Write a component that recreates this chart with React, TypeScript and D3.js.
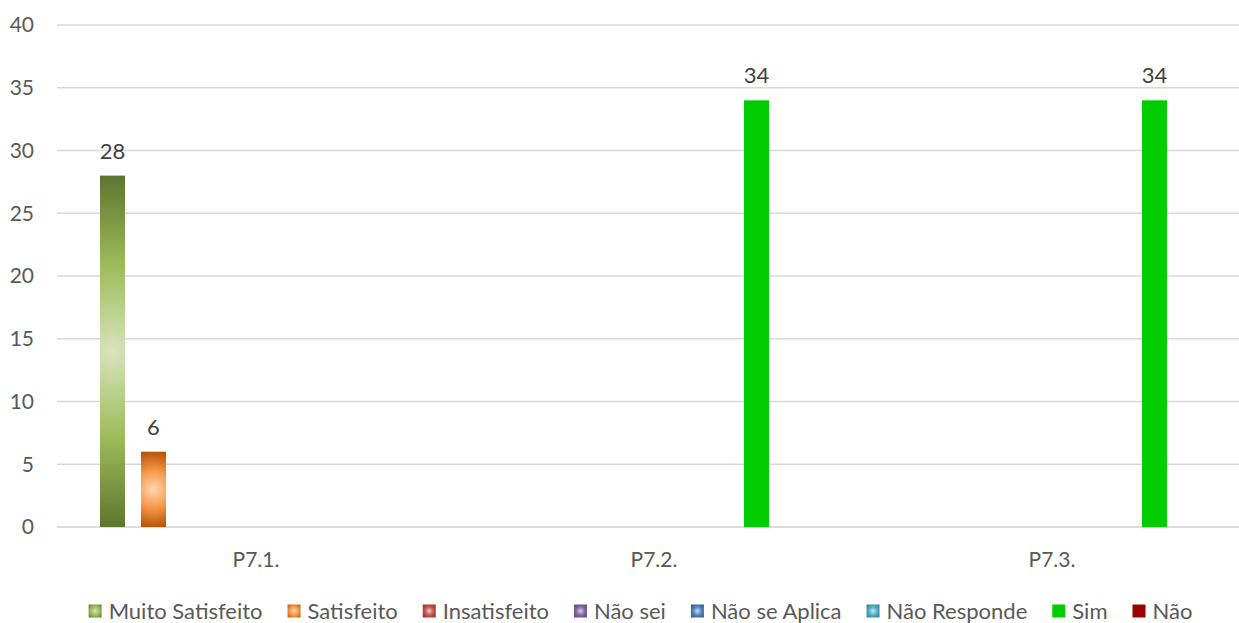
import React, { useEffect, useRef } from "react";
import * as d3 from "d3";

// Survey results per question
const categories = ["P7.1.", "P7.2.", "P7.3."];
const seriesNames = [
  "Muito Satisfeito",
  "Satisfeito",
  "Insatisfeito",
  "Não sei",
  "Não se Aplica",
  "Não Responde",
  "Sim",
  "Não",
];
const muitoSatisfeito: (number | null)[] = [28, null, null];
const satisfeito: (number | null)[] = [6, null, null];
const insatisfeito: (number | null)[] = [null, null, null];
const naoSei: (number | null)[] = [null, null, null];
const naoSeAplica: (number | null)[] = [null, null, null];
const naoResponde: (number | null)[] = [null, null, null];
const sim: (number | null)[] = [null, 34, 34];
const nao: (number | null)[] = [null, null, null];
const seriesValues = [muitoSatisfeito, satisfeito, insatisfeito, naoSei, naoSeAplica, naoResponde, sim, nao];
const yTicks = [0, 5, 10, 15, 20, 25, 30, 35, 40];

// Fill styles: gradient series carry [dark, mid, light]; solid series a single colour
type Fill = { solid?: string; dark?: string; mid?: string; light?: string };
const fills: Fill[] = [
  { dark: "#5e7530", mid: "#9bbb59", light: "#d8e4bd" },
  { dark: "#b85608", mid: "#f79646", light: "#fdd6b3" },
  { dark: "#8e2f2c", mid: "#c0504d", light: "#efc6c5" },
  { dark: "#5b4677", mid: "#8064a2", light: "#d8cfe4" },
  { dark: "#2c4e78", mid: "#4f81bd", light: "#c8d8ee" },
  { dark: "#2b7c91", mid: "#4bacc6", light: "#c9e7ef" },
  { solid: "#00cc00" },
  { solid: "#990000" },
];

const W = 1239;
const H = 623;
const FONT = "Lato, 'Open Sans', sans-serif";

export default function App() {
  const ref = useRef<SVGSVGElement | null>(null);

  useEffect(() => {
    const svg = d3.select(ref.current);
    svg.selectAll("*").remove();
    const defs = svg.append("defs");

    const plotLeft = 57;
    const plotRight = 1251;
    const y = d3.scaleLinear().domain([0, 40]).range([527, 25]);
    const x0 = d3.scaleBand<string>().domain(categories).range([plotLeft, plotRight]);
    const x1 = d3
      .scaleBand<string>()
      .domain(seriesNames)
      .range([0, x0.bandwidth()])
      .paddingInner(0.39)
      .paddingOuter(1.0485);

    let gid = 0;
    const radial = (f: Fill, cx: number, cy: number, r: number) => {
      const id = `g${gid++}`;
      const g = defs
        .append("radialGradient")
        .attr("id", id)
        .attr("gradientUnits", "userSpaceOnUse")
        .attr("cx", cx)
        .attr("cy", cy)
        .attr("r", r);
      g.append("stop").attr("offset", "0").attr("stop-color", f.light!);
      g.append("stop").attr("offset", "0.5").attr("stop-color", f.mid!);
      g.append("stop").attr("offset", "1").attr("stop-color", f.dark!);
      return `url(#${id})`;
    };

    // gridlines
    svg
      .append("g")
      .selectAll("line")
      .data(yTicks)
      .join("line")
      .attr("x1", plotLeft)
      .attr("x2", plotRight)
      .attr("y1", (d) => y(d))
      .attr("y2", (d) => y(d))
      .attr("stroke", (d) => (d === 0 ? "#d0d0d0" : "#d9d9d9"))
      .attr("stroke-width", 1.3);

    // y-axis labels
    svg
      .append("g")
      .selectAll("text")
      .data(yTicks)
      .join("text")
      .attr("x", 34)
      .attr("y", (d) => y(d))
      .attr("dy", "0.35em")
      .attr("text-anchor", "end")
      .attr("font-family", FONT)
      .attr("font-size", 21)
      .attr("fill", "#595959")
      .text((d) => d);

    // category labels
    svg
      .append("g")
      .selectAll("text")
      .data(categories)
      .join("text")
      .attr("x", (d) => x0(d)! + x0.bandwidth() / 2)
      .attr("y", 560)
      .attr("dy", "0.35em")
      .attr("text-anchor", "middle")
      .attr("font-family", FONT)
      .attr("font-size", 21)
      .attr("fill", "#595959")
      .text((d) => d);

    // bars and value labels
    const bars = svg.append("g");
    seriesNames.forEach((name, si) => {
      const f = fills[si];
      seriesValues[si].forEach((v, ci) => {
        if (v == null) return;
        const bx = x0(categories[ci])! + x1(name)!;
        const bw = x1.bandwidth();
        const by = y(v);
        const bh = y(0) - by;
        const fill = f.solid
          ? f.solid
          : radial(f, bx + bw / 2, by + bh / 2, Math.max(bw, bh) / 2);
        bars.append("rect").attr("x", bx).attr("y", by).attr("width", bw).attr("height", bh).attr("fill", fill);
        bars
          .append("text")
          .attr("x", bx + bw / 2)
          .attr("y", by - 17)
          .attr("text-anchor", "middle")
          .attr("font-family", FONT)
          .attr("font-size", 22)
          .attr("fill", "#404040")
          .text(v);
      });
    });

    // legend, centred under the plot
    const legend = svg.append("g");
    const items = seriesNames.map((name, i) => {
      const t = legend
        .append("text")
        .attr("y", 611)
        .attr("dy", "0.35em")
        .attr("font-family", FONT)
        .attr("font-size", 22)
        .attr("fill", "#595959")
        .text(name);
      return { name, i, t, w: (t.node() as SVGTextElement).getComputedTextLength() };
    });
    const mk = 13;
    const gapMarker = 7;
    const gapItem = 25;
    const total = d3.sum(items, (d) => mk + gapMarker + d.w) + gapItem * (items.length - 1);
    let cx = 640.5 - total / 2;
    items.forEach((it) => {
      const f = fills[it.i];
      const my = 611 - mk / 2;
      const fill = f.solid ? f.solid : radial(f, cx + mk / 2, my + mk / 2, mk * 0.7);
      legend.append("rect").attr("x", cx).attr("y", my).attr("width", mk).attr("height", mk).attr("fill", fill);
      it.t.attr("x", cx + mk + gapMarker);
      cx += mk + gapMarker + it.w + gapItem;
    });
  }, []);

  return (
    <div style={{ position: "absolute", left: 0, top: 0 }}>
      <svg ref={ref} width={W} height={H} style={{ display: "block", background: "#ffffff" }} />
    </div>
  );
}
